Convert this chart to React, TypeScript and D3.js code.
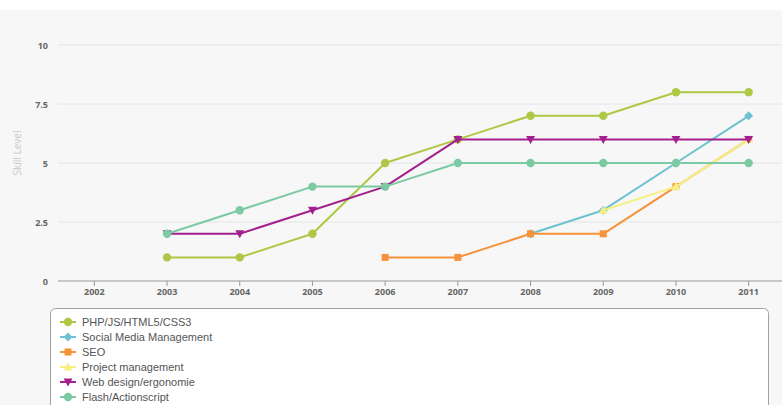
import React from "react";
import * as d3 from "d3";

const years = ["2002", "2003", "2004", "2005", "2006", "2007", "2008", "2009", "2010", "2011"];
const yTicks = [0, 2.5, 5, 7.5, 10];
const seriesNames = ["PHP/JS/HTML5/CSS3", "Social Media Management", "SEO", "Project management", "Web design/ergonomie", "Flash/Actionscript"];
const seriesColors = ["#aec843", "#6cc2d0", "#f5923a", "#f7ef82", "#a3208e", "#7ccaa3"];
const seriesSymbols = ["circle", "diamond", "square", "triangle", "triangleDown", "circle"];
const phpValues: (number | null)[] = [null, 1, 1, 2, 5, 6, 7, 7, 8, 8];
const socialValues: (number | null)[] = [null, null, null, null, null, null, 2, 3, 5, 7];
const seoValues: (number | null)[] = [null, null, null, null, 1, 1, 2, 2, 4, 6];
const projectValues: (number | null)[] = [null, null, null, null, null, null, null, 3, 4, 6];
const webValues: (number | null)[] = [null, 2, 2, 3, 4, 6, 6, 6, 6, 6];
const flashValues: (number | null)[] = [null, 2, 3, 4, 4, 5, 5, 5, 5, 5];
const allValues = [phpValues, socialValues, seoValues, projectValues, webValues, flashValues];

const W = 782;
const H = 405;
const plotLeft = 58;
const plotRight = 785;
const plotTop = 45;
const plotBottom = 281;

function Marker({ type, x, y, color }: { type: string; x: number; y: number; color: string }) {
  if (type === "circle") return <circle cx={x} cy={y} r={4.2} fill={color} />;
  if (type === "square") return <rect x={x - 3.5} y={y - 3.5} width={7} height={7} fill={color} />;
  if (type === "diamond")
    return <path d={`M${x},${y - 4.5}L${x + 4.5},${y}L${x},${y + 4.5}L${x - 4.5},${y}Z`} fill={color} />;
  if (type === "triangle")
    return <path d={`M${x},${y - 4.5}L${x + 4.5},${y + 3.5}L${x - 4.5},${y + 3.5}Z`} fill={color} />;
  return <path d={`M${x - 4.5},${y - 3.5}L${x + 4.5},${y - 3.5}L${x},${y + 4.5}Z`} fill={color} />;
}

export default function App() {
  const x = d3.scalePoint<string>().domain(years).range([plotLeft, plotRight]).padding(0.5);
  const y = d3.scaleLinear().domain([0, 10]).range([plotBottom, plotTop]);
  const line = d3
    .line<number | null>()
    .defined((d) => d !== null)
    .x((_, i) => x(years[i]) as number)
    .y((d) => y(d as number));

  const tickFont = "'Open Sans', 'DejaVu Sans', sans-serif";
  const legendFont = "'Liberation Sans', Arial, sans-serif";

  return (
    <svg width={W} height={H} style={{ position: "absolute", left: 0, top: 0, display: "block" }}>
      <rect x={0} y={0} width={W} height={H} fill="#ffffff" />
      <rect x={0} y={10} width={W} height={H - 10} fill="#f7f7f7" />
      {yTicks.map((t) => (
        <g key={t}>
          {t !== 0 && <line x1={plotLeft} x2={W} y1={y(t)} y2={y(t)} stroke="#e4e4e4" strokeWidth={1} />}
          <text x={48} y={y(t) + 3.5} textAnchor="end" fontFamily={tickFont} fontWeight="bold" fontSize={9} fill="#666">
            {t}
          </text>
        </g>
      ))}
      <text
        transform={`translate(21,${(plotTop + plotBottom) / 2 - 10}) rotate(-90)`}
        textAnchor="middle"
        fontFamily={tickFont}
        fontSize={10}
        fill="#c8c8c8"
      >
        Skill Level
      </text>
      <line x1={plotLeft} x2={W} y1={plotBottom} y2={plotBottom} stroke="#999" strokeWidth={1} />
      {years.map((yr) => (
        <g key={yr}>
          <line x1={x(yr)} x2={x(yr)} y1={plotBottom} y2={plotBottom + 5} stroke="#999" strokeWidth={1} />
          <text x={x(yr)} y={plotBottom + 14} textAnchor="middle" fontFamily={tickFont} fontWeight="bold" fontSize={9} fill="#666">
            {yr}
          </text>
        </g>
      ))}
      {allValues.map((vals, si) => (
        <g key={si}>
          <path d={line(vals) || ""} fill="none" stroke={seriesColors[si]} strokeWidth={2} strokeLinejoin="round" />
          {vals.map((v, i) =>
            v === null ? null : (
              <Marker key={i} type={seriesSymbols[si]} x={x(years[i]) as number} y={y(v)} color={seriesColors[si]} />
            )
          )}
        </g>
      ))}
      <rect x={50.5} y={308.5} width={718} height={110} rx={5} fill="#ffffff" stroke="#a0a0a0" strokeWidth={1} />
      {seriesNames.map((n, i) => {
        const ly = 322 + i * 15;
        return (
          <g key={n}>
            <line x1={60} x2={76} y1={ly} y2={ly} stroke={seriesColors[i]} strokeWidth={2} />
            <Marker type={seriesSymbols[i]} x={68} y={ly} color={seriesColors[i]} />
            <text x={82} y={ly + 4} fontFamily={legendFont} fontSize={11} fill="#555">
              {n}
            </text>
          </g>
        );
      })}
    </svg>
  );
}
